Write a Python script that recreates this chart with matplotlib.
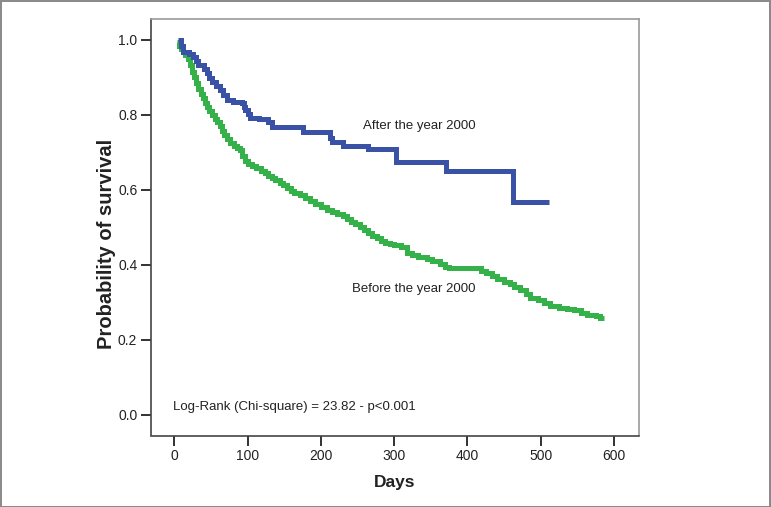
import matplotlib
matplotlib.use("Agg")
import matplotlib.pyplot as plt
from matplotlib.patches import Rectangle

plt.rcParams['font.family'] = ['Liberation Sans', 'DejaVu Sans']

# Before the year 2000 (green)
before_t = [3, 6, 9, 12, 15, 18, 21, 24, 27, 30, 33, 36, 39, 42, 45, 48, 51, 55, 58, 62,
            65, 68, 72, 76, 81, 86, 90, 93, 96, 101, 106, 112, 118, 124, 128, 133, 138, 144,
            149, 154, 159, 164, 172, 178, 185, 192, 200, 208, 215, 222, 230, 236, 241, 247,
            253, 259, 265, 270, 276, 282, 288, 294, 300, 310, 318, 325, 333, 345, 352, 362,
            370, 375, 418, 425, 433, 441, 450, 458, 464, 472, 480, 486, 496, 505, 513, 525,
            536, 545, 555, 563, 575, 581]
before_s = [0.995, 0.985, 0.975, 0.968, 0.960, 0.948, 0.932, 0.915, 0.900, 0.885, 0.868,
            0.857, 0.845, 0.832, 0.822, 0.810, 0.800, 0.790, 0.780, 0.770, 0.757, 0.745,
            0.735, 0.725, 0.718, 0.712, 0.705, 0.690, 0.676, 0.670, 0.664, 0.657, 0.650,
            0.645, 0.638, 0.632, 0.626, 0.618, 0.612, 0.605, 0.598, 0.592, 0.586, 0.578,
            0.570, 0.562, 0.555, 0.546, 0.540, 0.535, 0.529, 0.522, 0.514, 0.508, 0.500,
            0.492, 0.485, 0.477, 0.470, 0.463, 0.458, 0.455, 0.452, 0.447, 0.430, 0.425,
            0.420, 0.415, 0.410, 0.402, 0.395, 0.390, 0.383, 0.378, 0.370, 0.362, 0.355,
            0.348, 0.340, 0.332, 0.322, 0.312, 0.305, 0.298, 0.290, 0.285, 0.282, 0.278,
            0.272, 0.265, 0.262, 0.257]
before_end = 587

# After the year 2000 (blue)
after_t = [5, 9, 12, 20, 26, 30, 33, 40, 44, 48, 52, 57, 62, 67, 72, 80, 92, 95, 97, 100,
           103, 115, 128, 133, 175, 212, 215, 230, 265, 303, 371, 462]
after_s = [1.000, 0.985, 0.969, 0.962, 0.955, 0.944, 0.933, 0.922, 0.911, 0.899, 0.888,
           0.877, 0.866, 0.853, 0.840, 0.835, 0.831, 0.822, 0.813, 0.802, 0.791, 0.788,
           0.781, 0.768, 0.753, 0.738, 0.728, 0.717, 0.710, 0.673, 0.649, 0.568]
after_end = 512

x_ticks = [0, 100, 200, 300, 400, 500, 600]
y_ticks = [0.0, 0.2, 0.4, 0.6, 0.8, 1.0]

blue = '#3a52a6'
green = '#35b14a'
txt = '#222222'

fig = plt.figure(figsize=(7.71, 5.07), dpi=100)
ax = fig.add_axes([150.5 / 771, 1 - 435.5 / 507, (638.5 - 150.5) / 771, (435.5 - 19) / 507])

ax.step(before_t + [before_end], before_s + [before_s[-1]], where='post',
        color=green, lw=3.6, solid_joinstyle='miter', solid_capstyle='butt')
ax.step(after_t + [after_end], after_s + [after_s[-1]], where='post',
        color=blue, lw=3.6, solid_joinstyle='miter', solid_capstyle='butt')

ax.set_xlim(-32.5, 633.5)
ax.set_ylim(-0.056, 1.056)
ax.set_xticks(x_ticks)
ax.set_xticklabels([str(v) for v in x_ticks])
ax.set_yticks(y_ticks)
ax.set_yticklabels([f'{v:.1f}' for v in y_ticks])

ax.tick_params(axis='both', direction='out', length=7, width=1.3, color=txt,
               labelsize=10, labelcolor=txt, pad=2.5)
for side in ['left', 'bottom']:
    ax.spines[side].set_color('#444444')
    ax.spines[side].set_linewidth(1.2)
for side in ['top', 'right']:
    ax.spines[side].set_color('#999999')
    ax.spines[side].set_linewidth(1.2)

ax.set_xlabel('Days', fontsize=12.5, fontweight='bold', color=txt, va='center')
ax.xaxis.set_label_coords((395 - 150.5) / 488, (435.5 - 483) / 416.5)
ax.set_ylabel('Probability of survival', fontsize=14.5, fontweight='bold', color=txt,
              va='center')
ax.yaxis.set_label_coords((106 - 150.5) / 488, (435.5 - 244) / 416.5)

ax.text(258, 0.77, 'After the year 2000', fontsize=9.5, color=txt, va='center', ha='left')
ax.text(243, 0.335, 'Before the year 2000', fontsize=9.5, color=txt, va='center', ha='left')
ax.text(-1.5, 0.02, 'Log-Rank (Chi-square) = 23.82 - p<0.001', fontsize=9.5, color=txt,
        va='center', ha='left')

fig.patches.append(Rectangle((0.5 / 771, 0.5 / 507), 769.5 / 771, 505.5 / 507,
                             transform=fig.transFigure, fill=False, edgecolor='#888888',
                             lw=1.4))

fig.savefig('out.png', dpi=100)
